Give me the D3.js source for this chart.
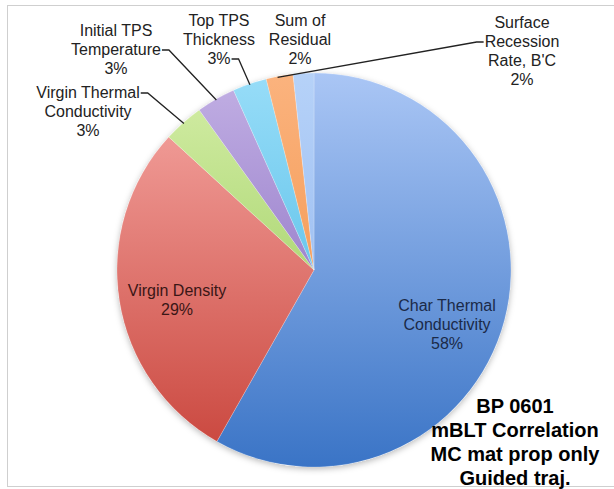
<!DOCTYPE html>
<html><head><meta charset="utf-8">
<script src="https://cdn.jsdelivr.net/npm/d3@7"></script>
<style>
html,body{margin:0;padding:0;background:#fff;}
svg{display:block;font-family:"Liberation Sans",Arial,sans-serif;}
</style></head>
<body><svg id="c" width="614" height="489"></svg>
<script>
// ---- data ----
const categories = ["Char Thermal\nConductivity","Virgin Density","Virgin Thermal\nConductivity","Initial TPS\nTemperature","Top TPS\nThickness","Sum of\nResidual","Surface\nRecession\nRate, B'C"];
const values = [58.2, 28.6, 3.3, 3.2, 2.8, 2.2, 1.7];
const topColors = ["#aac6f5","#f7aaa6","#d5eea8","#c2b0e4","#98ddf8","#fbb37e","#b6d2f8"];
const bottomColors = ["#3a74c6","#c8433a","#8cc44a","#7a5ab8","#3ab0e0","#ef8a3a","#8ab0ee"];
const titleLines = ["BP 0601","mBLT Correlation","MC mat prop only","Guided traj."];

// ---- layout ----
const W = 614, H = 489;
const cx = 314, cy = 270, R = 197;
const labelLayout = [
  {x:447, y:305, fill:"#1b2a48"},
  {x:177, y:290, fill:"#3a1616"},
  {x:88,  y:92,  fill:"#222", hook:{line:0, side:"right"}, t:0.5},
  {x:116, y:30,  fill:"#222", hook:{line:1, side:"right"}, t:0.5},
  {x:219, y:20,  fill:"#222", hook:{line:2, side:"right"}, t:0.5},
  {x:300, y:20,  fill:"#222"},
  {x:522, y:22,  fill:"#222", hook:{line:1, side:"left"}, t:-0.75}
];
const LH = 19;

const svg = d3.select("#c");
svg.append("rect").attr("x",7.5).attr("y",5.5).attr("width",640).attr("height",481)
  .attr("fill","#fff").attr("stroke","#cfcfcf").attr("stroke-width",1);

const defs = svg.append("defs");
const f = defs.append("filter").attr("id","sh").attr("x","-10%").attr("y","-10%").attr("width","120%").attr("height","120%");
f.append("feDropShadow").attr("dx",0).attr("dy",2).attr("stdDeviation",3).attr("flood-color","#000").attr("flood-opacity",0.28);

categories.forEach((c,i)=>{
  const g = defs.append("linearGradient").attr("id","g"+i).attr("gradientUnits","userSpaceOnUse")
    .attr("x1",0).attr("y1",-R).attr("x2",0).attr("y2",R);
  g.append("stop").attr("offset","0").attr("stop-color",topColors[i]);
  g.append("stop").attr("offset","1").attr("stop-color",bottomColors[i]);
});

const pie = d3.pie().sort(null).value(d=>d);
const arcs = pie(values);
const arc = d3.arc().innerRadius(0).outerRadius(R);

const pg = svg.append("g").attr("transform",`translate(${cx},${cy})`);
pg.append("circle").attr("r",R).attr("fill","#fff").attr("filter","url(#sh)");
pg.selectAll("path.s").data(arcs).join("path").attr("class","s")
  .attr("d",arc)
  .attr("fill",(d,i)=>`url(#g${i})`)
  .attr("stroke","rgba(255,255,255,0.35)").attr("stroke-width",0.6);

// labels
const lg = svg.append("g");
arcs.forEach((a,i)=>{
  const L = labelLayout[i];
  const lines = categories[i].split("\n").concat([Math.round(values[i])+"%"]);
  const texts = [];
  lines.forEach((s,k)=>{
    const t = lg.append("text").attr("x",L.x).attr("y",L.y+k*LH).attr("dy","0.35em")
      .attr("text-anchor","middle").attr("font-size",16).attr("fill",L.fill).text(s);
    texts.push(t);
  });
  if(L.hook){
    const t = texts[L.hook.line].node();
    const w = t.getComputedTextLength();
    const ly = L.y + L.hook.line*LH + 1;
    let x0, x1;
    if(L.hook.side==="right"){ x0 = L.x + w/2 + 1; x1 = x0 + 7; }
    else { x0 = L.x - w/2 - 1; x1 = x0 - 7; }
    const ang = a.startAngle + (a.endAngle-a.startAngle)*L.t;
    const ex = cx + (R-1)*Math.sin(ang), ey = cy - (R-1)*Math.cos(ang);
    lg.append("path").attr("d",d3.line()([[x0,ly],[x1,ly],[ex,ey]]))
      .attr("fill","none").attr("stroke","#222").attr("stroke-width",1.3);
  }
});

// title block
titleLines.forEach((s,k)=>{
  svg.append("text").attr("x",515).attr("y",405.5+k*24).attr("dy","0.35em")
    .attr("text-anchor","middle").attr("font-size",20).attr("font-weight","bold")
    .attr("fill","#000").text(s);
});
</script></body></html>
